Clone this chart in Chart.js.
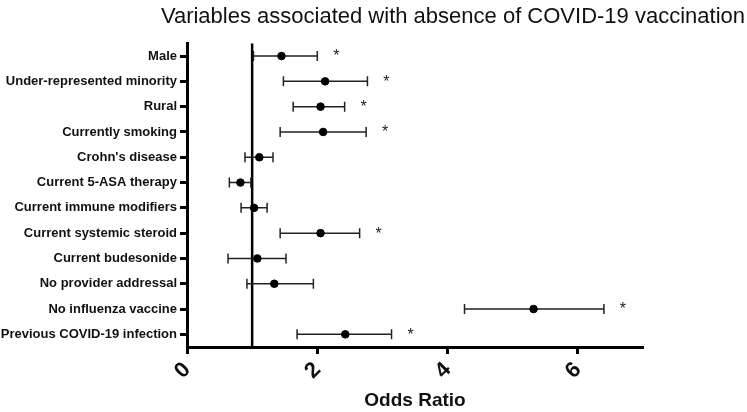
<!DOCTYPE html>
<html>
<head>
<meta charset="utf-8">
<script src="https://cdn.jsdelivr.net/npm/chart.js@4/dist/chart.umd.min.js"></script>
<style>
    html, body { margin: 0; padding: 0; background: #fff; }
    #wrap { width: 747px; height: 412px; }
</style>
</head>
<body>
<div id="wrap"><canvas id="forest"></canvas></div>
<script>
const variables = [
    'Male', 'Under-represented minority', 'Rural', 'Currently smoking',
    "Crohn's disease", 'Current 5-ASA therapy', 'Current immune modifiers',
    'Current systemic steroid', 'Current budesonide', 'No provider addressal',
    'No influenza vaccine', 'Previous COVID-19 infection'
];
const oddsRatio = [1.45, 2.12, 2.05, 2.09, 1.11, 0.82, 1.03, 2.05, 1.08, 1.34, 5.32, 2.43];
const lowerCI = [1.02, 1.48, 1.63, 1.43, 0.89, 0.65, 0.83, 1.43, 0.63, 0.92, 4.26, 1.69];
const upperCI = [2.00, 2.77, 2.42, 2.75, 1.32, 0.98, 1.23, 2.65, 1.52, 1.94, 6.40, 3.14];
const significant = [true, true, true, true, false, false, false, true, false, false, true, true];
const xTicks = [0, 2, 4, 6];
const referenceOR = 1;

const fontFamily = '"Liberation Sans", Arial, sans-serif';

const forestPlugin = {
    id: 'forest',
    beforeDatasetsDraw(chart) {
        const { ctx, chartArea, scales: { x, y } } = chart;
        ctx.save();
        // reference line at OR = 1
        const xr = x.getPixelForValue(referenceOR);
        ctx.strokeStyle = '#000';
        ctx.lineWidth = 2.5;
        ctx.beginPath();
        ctx.moveTo(xr, chartArea.top);
        ctx.lineTo(xr, chartArea.bottom);
        ctx.stroke();
        // confidence intervals
        ctx.lineWidth = 1.5;
        ctx.strokeStyle = '#222';
        variables.forEach((v, i) => {
            const yp = y.getPixelForValue(i);
            const xl = x.getPixelForValue(lowerCI[i]);
            const xu = x.getPixelForValue(upperCI[i]);
            ctx.beginPath();
            ctx.moveTo(xl, yp);
            ctx.lineTo(xu, yp);
            ctx.moveTo(xl, yp - 5);
            ctx.lineTo(xl, yp + 5);
            ctx.moveTo(xu, yp - 5);
            ctx.lineTo(xu, yp + 5);
            ctx.stroke();
        });
        ctx.restore();
    },
    afterDatasetsDraw(chart) {
        const { ctx, scales: { x, y } } = chart;
        ctx.save();
        ctx.fillStyle = '#222';
        ctx.font = '16px ' + fontFamily;
        ctx.textAlign = 'center';
        ctx.textBaseline = 'middle';
        variables.forEach((v, i) => {
            if (!significant[i]) return;
            const yp = y.getPixelForValue(i);
            const xu = x.getPixelForValue(upperCI[i]);
            ctx.fillText('*', xu + 19, yp + 1);
        });
        ctx.restore();
    }
};

new Chart(document.getElementById('forest'), {
    type: 'scatter',
    data: {
        labels: variables,
        datasets: [{
            data: variables.map((v, i) => ({ x: oddsRatio[i], y: v })),
            backgroundColor: '#000',
            borderColor: '#000',
            pointRadius: 3.8,
            pointHoverRadius: 3.8,
            showLine: false
        }]
    },
    options: {
        responsive: true,
        maintainAspectRatio: false,
        animation: false,
        layout: { padding: { left: 0, right: 2, top: 0, bottom: 0 } },
        plugins: {
            legend: { display: false },
            tooltip: { enabled: false },
            title: {
                display: true,
                text: 'Variables associated with absence of COVID-19 vaccination',
                align: 'end',
                color: '#111',
                font: { family: fontFamily, size: 22, weight: 'normal' },
                padding: { top: 4, bottom: 13 },
                fullSize: true
            }
        },
        scales: {
            x: {
                type: 'linear',
                min: 0,
                max: 7,
                afterBuildTicks: (scale) => {
                    scale.ticks = xTicks.map(v => ({ value: v }));
                },
                afterFit: (scale) => { scale.height = 65; },
                ticks: {
                    color: '#111',
                    font: { family: fontFamily, size: 22, weight: 'bold' },
                    minRotation: 45,
                    maxRotation: 45,
                    padding: 3
                },
                grid: {
                    drawOnChartArea: false,
                    drawTicks: true,
                    tickLength: 7,
                    tickWidth: 3,
                    tickColor: '#000'
                },
                border: { display: true, color: '#000', width: 3 },
                title: {
                    display: true,
                    text: 'Odds Ratio',
                    color: '#111',
                    font: { family: fontFamily, size: 19, weight: 'bold' },
                    padding: { top: 0, bottom: 0 }
                }
            },
            y: {
                type: 'category',
                labels: variables,
                offset: true,
                afterFit: (scale) => { scale.width = 187; },
                ticks: {
                    color: '#111',
                    font: { family: fontFamily, size: 13, weight: 'bold' },
                    padding: 3
                },
                grid: {
                    drawOnChartArea: false,
                    drawTicks: true,
                    tickLength: 7,
                    tickWidth: 3,
                    tickColor: '#000',
                    offset: false
                },
                border: { display: true, color: '#000', width: 3 }
            },
            // empty right-hand box that keeps the plot area narrower than the title
            spacer: {
                type: 'linear',
                position: 'right',
                display: true,
                afterFit: (scale) => { scale.width = 102; },
                ticks: { display: false },
                grid: { display: false },
                border: { display: false }
            }
        }
    },
    plugins: [forestPlugin]
});
</script>
</body>
</html>
